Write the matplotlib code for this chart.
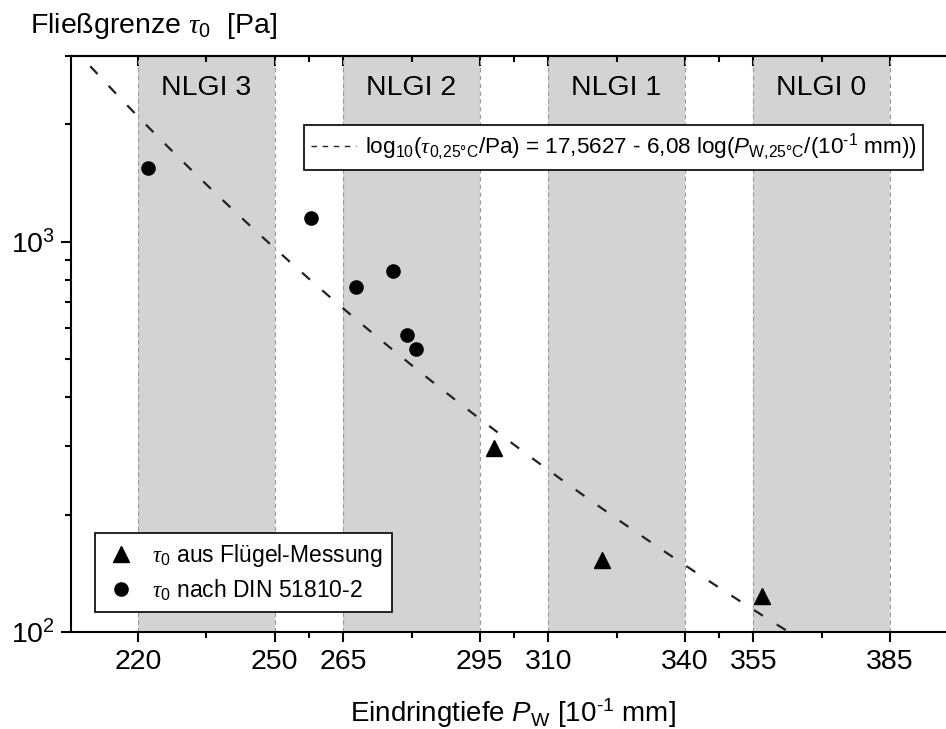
import matplotlib
matplotlib.use("Agg")
import matplotlib.pyplot as plt
import numpy as np
from matplotlib.lines import Line2D
from matplotlib.ticker import NullFormatter
import matplotlib.transforms as mtransforms

plt.rcParams["font.family"] = ["Liberation Sans", "DejaVu Sans"]
plt.rcParams["mathtext.fontset"] = "custom"
plt.rcParams["mathtext.rm"] = "Liberation Sans"
plt.rcParams["mathtext.it"] = "Liberation Sans:italic"
plt.rcParams["mathtext.cal"] = "Liberation Serif:italic"

# NLGI consistency classes (penetration ranges)
nlgi_names = ["NLGI 3", "NLGI 2", "NLGI 1", "NLGI 0"]
nlgi_lo = [220, 265, 310, 355]
nlgi_hi = [250, 295, 340, 385]

# yield stress after DIN 51810-2
din_pw = [222.1, 257.9, 267.9, 275.9, 279.0, 280.9]
din_tau = [1550, 1154, 768, 844, 577, 532]

# yield stress from vane measurement
vane_pw = [298.0, 321.8, 356.9]
vane_tau = [297, 153, 124]

# regression log10(tau) = a - b*log10(P)
fit_a = 17.5627
fit_b = 6.08
fit_start, fit_end = 209.5, 362.6

x_major = [220, 250, 265, 295, 310, 340, 355, 385]
x_minor = [(a + b) / 2 for a, b in zip(x_major[:-1], x_major[1:])]

TAU = r"\mathcal{\tau}"
FS = 20.5


def main():
    fig = plt.figure(figsize=(9.46, 7.29), dpi=100)
    ax = fig.add_axes([0.0747, 0.1331, 0.9253, 0.7906])

    for lo, hi, name in zip(nlgi_lo, nlgi_hi, nlgi_names):
        ax.axvspan(lo, hi, color="#d3d3d3", lw=0, zorder=0)
        for xv in (lo, hi):
            ax.axvline(xv, color="#9a9a9a", lw=0.8, ls=(0, (4, 3)), zorder=0.5)
        trans = mtransforms.blended_transform_factory(ax.transData, ax.transAxes)
        ax.text((lo + hi) / 2, 0.944, name, transform=trans, ha="center",
                va="center", fontsize=FS)

    pw = np.linspace(fit_start, fit_end, 200)
    tau_fit = 10 ** (fit_a - fit_b * np.log10(pw))
    ax.plot(pw, tau_fit, color="#222222", lw=1.6, ls=(0, (4.8, 7.3)), zorder=2)

    ax.plot(vane_pw, vane_tau, ls="none", marker="^", ms=11, color="black", zorder=3)
    ax.plot(din_pw, din_tau, ls="none", marker="o", ms=9.5, color="black", zorder=3)

    ax.set_yscale("log")
    ax.set_ylim(100, 3000)
    ax.set_xlim(205.2, 397.3)

    ax.set_xticks(x_major)
    ax.set_xticks(x_minor, minor=True)
    ax.tick_params(axis="x", which="major", direction="out", length=7.5, width=1.5,
                   labelsize=FS, pad=5, top=False)
    ax.tick_params(axis="x", which="minor", direction="out", length=4, width=1.5, top=False)
    ax.tick_params(axis="y", which="major", direction="out", length=7.5, width=1.5,
                   labelsize=FS, pad=4, right=False)
    ax.tick_params(axis="y", which="minor", direction="out", length=4, width=1.5, right=False)

    top = ax.secondary_xaxis("top")
    top.set_xticks(x_major)
    top.set_xticks(x_minor, minor=True)
    top.xaxis.set_major_formatter(NullFormatter())
    top.tick_params(which="major", direction="in", length=7.5, width=1.5)
    top.tick_params(which="minor", direction="in", length=4, width=1.5)
    top.spines["top"].set_linewidth(1.5)

    for side in ("left", "bottom", "top"):
        ax.spines[side].set_linewidth(1.5)
    ax.spines["right"].set_visible(False)

    fig.text(30 / 946, 1 - 33 / 729, rf"Fließgrenze ${TAU}_0$  [Pa]",
             fontsize=FS, ha="left", va="baseline")
    fig.text(512.5 / 946, 1 - 722 / 729,
             r"Eindringtiefe $P_\mathrm{W}$ [10$^{\text{-}1}$ mm]",
             fontsize=20, ha="center", va="baseline")

    fit_handle = Line2D([], [], color="#222222", lw=1, ls=(0, (4, 4)))
    leg1 = ax.legend(
        [fit_handle],
        [rf"log$_{{10}}$(${TAU}_{{0{{,}}25°\mathrm{{C}}}}$/Pa) = 17,5627 - 6,08 "
         r"log($P_{\mathrm{W}{,}25°\mathrm{C}}$/(10$^{\text{-}1}$ mm))"],
        loc="upper left", bbox_to_anchor=(0.2665, 0.8796), borderaxespad=0,
        fontsize=16.2, frameon=True, fancybox=False, edgecolor="black",
        framealpha=1, handlelength=2.0, handletextpad=0.4, borderpad=0.3,
    )
    leg1.get_frame().set_linewidth(1.2)
    ax.add_artist(leg1)

    h_vane = Line2D([], [], ls="none", marker="^", ms=11, color="black")
    h_din = Line2D([], [], ls="none", marker="o", ms=9.5, color="black")
    leg2 = ax.legend(
        [h_vane, h_din],
        [rf"${TAU}_0$ aus Flügel-Messung", rf"${TAU}_0$ nach DIN 51810-2"],
        loc="lower left", bbox_to_anchor=(0.0278, 0.0347), borderaxespad=0,
        fontsize=16.5, frameon=True, fancybox=False, edgecolor="black",
        framealpha=1, handlelength=1.5, handletextpad=0.6, borderpad=0.4,
        labelspacing=0.35,
    )
    leg2.get_frame().set_linewidth(1.2)

    fig.savefig("out.png", dpi=100)


if __name__ == "__main__":
    main()
